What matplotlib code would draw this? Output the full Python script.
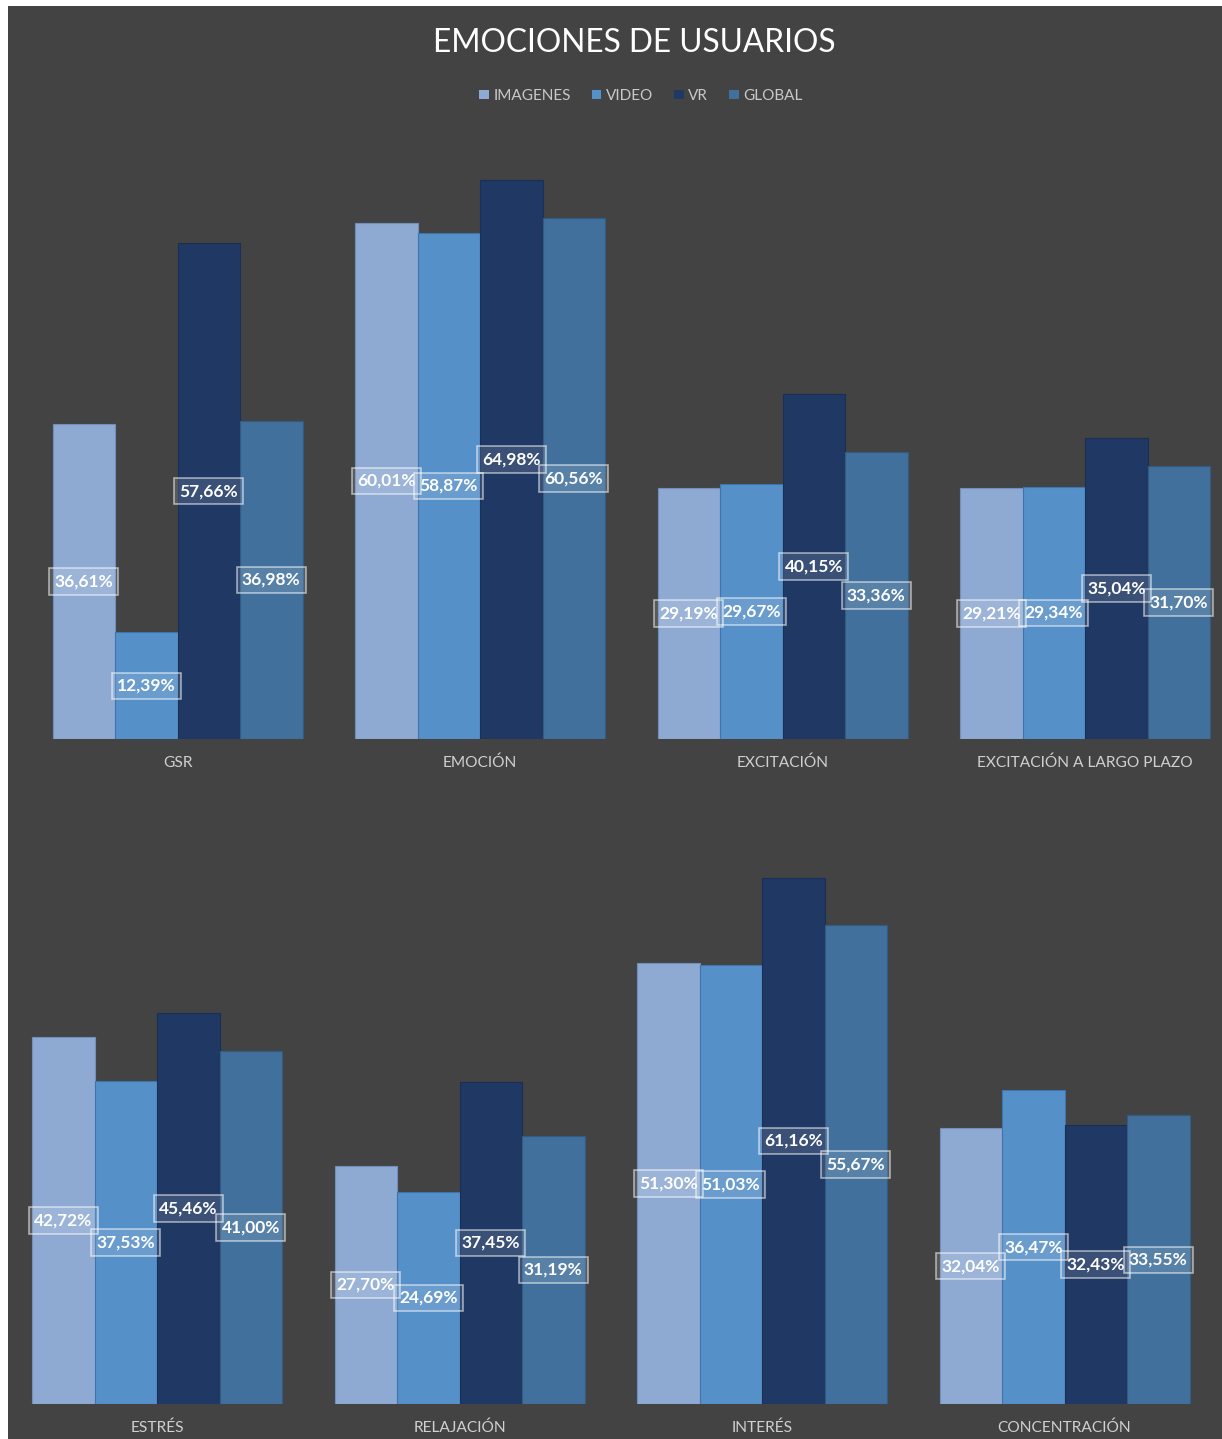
import matplotlib
matplotlib.use('Agg')
import matplotlib.pyplot as plt
from matplotlib.patches import Rectangle, Patch
import numpy as np

series = ['IMAGENES', 'VIDEO', 'VR', 'GLOBAL']
colors = ['#8EAAD2', '#5690C8', '#1F3864', '#41709C']
edges = ['#6F8FBE', '#3F75AE', '#1A2F55', '#335B82']

cats_top = ['GSR', 'EMOCIÓN', 'EXCITACIÓN', 'EXCITACIÓN A LARGO PLAZO']
imagenes_top = [36.61, 60.01, 29.19, 29.21]
video_top = [12.39, 58.87, 29.67, 29.34]
vr_top = [57.66, 64.98, 40.15, 35.04]
global_top = [36.98, 60.56, 33.36, 31.70]

cats_bot = ['ESTRÉS', 'RELAJACIÓN', 'INTERÉS', 'CONCENTRACIÓN']
imagenes_bot = [42.72, 27.70, 51.30, 32.04]
video_bot = [37.53, 24.69, 51.03, 36.47]
vr_bot = [45.46, 37.45, 61.16, 32.43]
global_bot = [41.00, 31.19, 55.67, 33.55]

plt.rcParams['font.family'] = ['Lato', 'DejaVu Sans']

W, H = 1222, 1439
fig = plt.figure(figsize=(W / 100, H / 100), dpi=100)
fig.patch.set_facecolor('white')
fig.patches.append(Rectangle((8 / W, 0), 1, 1 - 6 / H, transform=fig.transFigure,
                             facecolor='#434343', edgecolor='none', zorder=-10))

unit = 302.5
bw = 62.5 / unit
xlo, xhi = -0.45, 3.45


def draw_row(cats, rows, center0, base_px):
    left = center0 + xlo * unit
    width = (xhi - xlo) * unit
    ax = fig.add_axes([left / W, (H - base_px) / H, width / W, 602 / H])
    ax.set_facecolor('none')
    x = np.arange(len(cats))
    for i, vals in enumerate(rows):
        pos = x + (i - 1.5) * bw
        ax.bar(pos, vals, width=bw, color=colors[i], edgecolor=edges[i], linewidth=0.8)
        for p, v in zip(pos, vals):
            ax.text(p, v / 2, f'{v:.2f}'.replace('.', ',') + '%', ha='center', va='center',
                    color='white', fontsize=12.5, fontweight='bold',
                    bbox=dict(boxstyle='square,pad=0.3', facecolor=(1, 1, 1, 0.12),
                              edgecolor=(1, 1, 1, 0.55), linewidth=1.2))
    ax.set_xlim(xlo, xhi)
    ax.set_ylim(0, 70)
    ax.set_xticks(x)
    ax.set_xticklabels(cats, color='#D0D0D0', fontsize=11.2)
    ax.tick_params(axis='x', length=0, pad=12)
    ax.set_yticks([])
    for s in ax.spines.values():
        s.set_visible(False)
    return ax


draw_row(cats_top, [imagenes_top, video_top, vr_top, global_top], 177.5, 739)
draw_row(cats_bot, [imagenes_bot, video_bot, vr_bot, global_bot], 157, 1404)

fig.text(634 / W, 1 - 43 / H, 'EMOCIONES DE USUARIOS', ha='center', va='center',
         color='white', fontsize=22.8)

handles = [Patch(facecolor=c, edgecolor='none') for c in colors]
leg = fig.legend(handles, series, loc='center', bbox_to_anchor=(641 / W, 1 - 96 / H),
                 ncol=4, frameon=False, fontsize=11, handlelength=0.6, handleheight=0.6,
                 handletextpad=0.3, columnspacing=1.4, labelcolor='#C8C8C8')

fig.savefig('out.png', dpi=100, facecolor=fig.get_facecolor())
